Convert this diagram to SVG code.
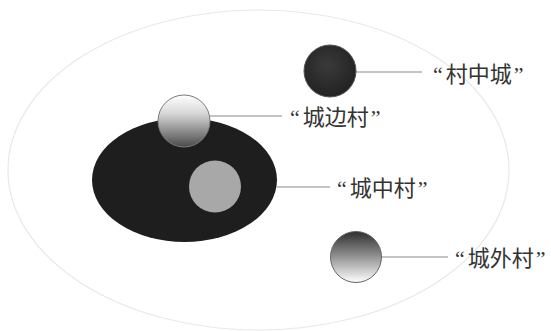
<svg xmlns="http://www.w3.org/2000/svg" width="551" height="331" viewBox="0 0 551 331">
<style>
.lbl{font-family:"Noto Sans CJK SC","Noto Sans CJK JP",sans-serif;font-size:22px;fill:#333333}
.q{font-family:"Liberation Serif",serif}
.conn line{stroke:#8a8a8a;stroke-width:1.2}
</style>
<defs>
<linearGradient id="gTop" x1="0" y1="0" x2="0" y2="1">
<stop offset="0" stop-color="#ffffff"/>
<stop offset="0.35" stop-color="#d8d8d8"/>
<stop offset="1" stop-color="#4a4a4a"/>
</linearGradient>
<linearGradient id="gOut" x1="0" y1="0" x2="0" y2="1">
<stop offset="0" stop-color="#2e2e2e"/>
<stop offset="0.45" stop-color="#8a8a8a"/>
<stop offset="1" stop-color="#ffffff"/>
</linearGradient>
<radialGradient id="gDark" cx="0.45" cy="0.4" r="0.6">
<stop offset="0" stop-color="#3a3a3a"/>
<stop offset="1" stop-color="#222"/>
</radialGradient>
</defs>
<rect width="551" height="331" fill="#ffffff"/>
<g id="outer">
<ellipse cx="258.5" cy="170" rx="250.5" ry="160" fill="none" stroke="#e8e8e8" stroke-width="1.2"/>
</g>
<g id="city">
<ellipse cx="184.5" cy="180" rx="92.5" ry="62" fill="#1e1e1e"/>
</g>
<g id="connectors" class="conn">
<line x1="356" y1="72" x2="422" y2="72"/>
<line x1="210" y1="116" x2="282" y2="116"/>
<line x1="277" y1="187" x2="330" y2="187"/>
<line x1="382" y1="257" x2="448" y2="257"/>
</g>
<g id="cunzhongcheng">
<circle cx="330" cy="71" r="26" fill="url(#gDark)" stroke="#555" stroke-width="1"/>
<text class="lbl" x="433" y="82"><tspan class="q">“</tspan><tspan dx="3">村中城</tspan><tspan class="q" dx="2">”</tspan></text>
</g>
<g id="chengbiancun">
<circle cx="184" cy="121" r="26" fill="url(#gTop)" stroke="#7a7a7a" stroke-width="1"/>
<text class="lbl" x="290" y="125"><tspan class="q">“</tspan><tspan dx="3">城边村</tspan><tspan class="q" dx="2">”</tspan></text>
</g>
<g id="chengzhongcun">
<circle cx="215" cy="186.5" r="26" fill="#a8a8a8"/>
<text class="lbl" x="337" y="196"><tspan class="q">“</tspan><tspan dx="3">城中村</tspan><tspan class="q" dx="2">”</tspan></text>
</g>
<g id="chengwaicun">
<circle cx="356" cy="257" r="25.5" fill="url(#gOut)" stroke="#666" stroke-width="1"/>
<text class="lbl" x="455" y="266"><tspan class="q">“</tspan><tspan dx="3">城外村</tspan><tspan class="q" dx="2">”</tspan></text>
</g>
</svg>
